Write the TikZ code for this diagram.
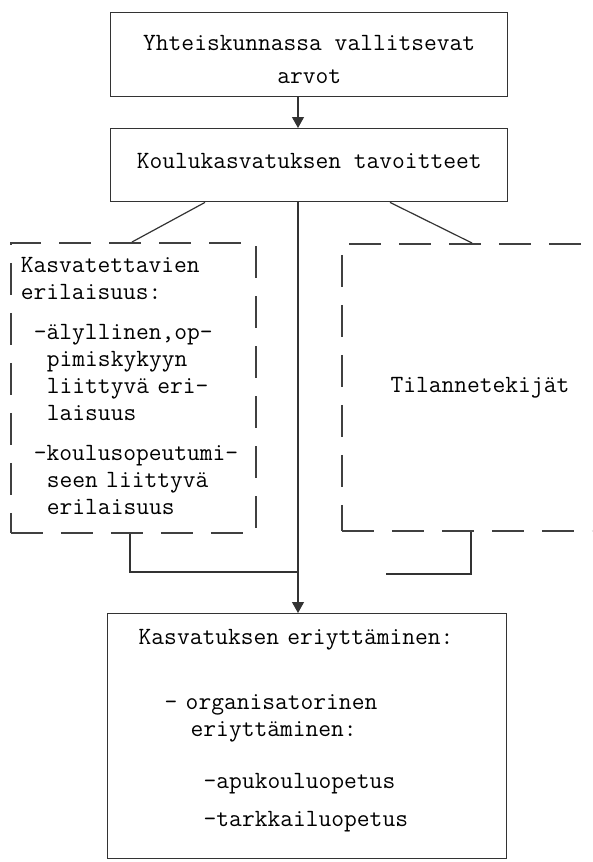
\documentclass[tikz,border=0pt]{standalone}
\usepackage{tikz}
\usetikzlibrary{arrows.meta}

\tikzset{
    box/.style = {draw = black!80, line width = 1.4pt, inner ysep = 0pt},
    dashbox/.style = {draw = black!75, line width = 1.8pt, dash pattern = on 32pt off 18pt, inner ysep = 0pt},
    link/.style = {draw = black!80, line width = 1.2pt},
    arrow/.style = {link, -{Triangle[length = 11pt, width = 12pt]}}
}

\begin{document}
\begin{tikzpicture}[x = 1pt, y = -1pt, font = \fontsize{24.8}{27}\selectfont\ttfamily]
            \useasboundingbox (0,0) rectangle (592,862);
            \clip (0,0) rectangle (592,862);
            % boxes
            \node[box, anchor = north west, minimum width = 397pt, minimum height = 84pt, align = center] (vals) at (110,12)
                {\rule{0pt}{25pt}Yhteiskunnassa vallitsevat\\[6pt]arvot};
            \node[box, anchor = north west, minimum width = 397pt, minimum height = 73pt] (goals) at (110,128)
                {Koulukasvatuksen tavoitteet\rule[-8pt]{0pt}{8pt}};
            \node[dashbox, anchor = north west, text width = 225pt, inner xsep = 10pt, minimum height = 290pt, align = left] (pupil) at (10,242)
                {Kasvatettavien\\
                 erilaisuus:\\[13pt]
                 \hspace*{13pt}-älyllinen,op-\\
                 \hspace*{26pt}pimiskykyyn\\
                 \hspace*{26pt}liittyvä eri-\\
                 \hspace*{26pt}laisuus\\[13pt]
                 \hspace*{13pt}-koulusopeutumi-\\
                 \hspace*{26pt}seen liittyvä\\
                 \hspace*{26pt}erilaisuus\rule[-3pt]{0pt}{3pt}};
            \node[dashbox, anchor = north west, minimum width = 276pt, minimum height = 287pt] (situation) at (341,243)
                {Tilannetekijät};
            \node[box, anchor = north west, text width = 337pt, inner xsep = 31pt, minimum height = 245pt, align = left] (diff) at (107,613)
                {Kasvatuksen eriyttäminen:\\[38pt]
                 \hspace*{26pt}- organisatorinen\\
                 \hspace*{52pt}eriyttäminen:\\[25pt]
                 \hspace*{65pt}-apukouluopetus\\[11pt]
                 \hspace*{65pt}-tarkkailuopetus\rule[-17pt]{0pt}{17pt}};
            % connectors
            \coordinate (spine) at (298,0);
            \coordinate (join) at (298,572);
            \coordinate (tail) at (386,574);
            \draw[arrow] (vals.south -| spine) -- (goals.north -| spine);
            \draw[arrow] (goals.south -| spine) -- (diff.north -| spine);
            \draw[link] ([xshift = 95pt]goals.south west) -- ([xshift = 122pt]pupil.north west);
            \draw[link] ([xshift = 280pt]goals.south west) -- ([xshift = 131pt]situation.north west);
            \draw[link] ([xshift = 120pt]pupil.south west) |- (join);
            \draw[link] ([xshift = 130pt]situation.south west) |- (tail);
\end{tikzpicture}
\end{document}
